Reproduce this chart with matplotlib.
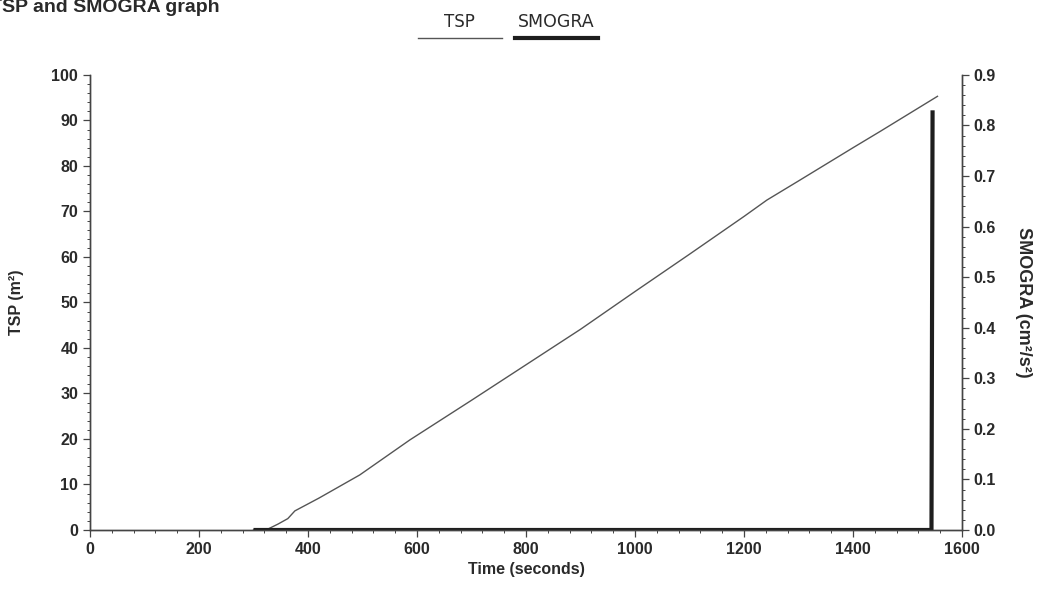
import matplotlib
matplotlib.use("Agg")
import matplotlib.pyplot as plt
from matplotlib.lines import Line2D
from matplotlib.ticker import MultipleLocator

# donnees
time_tsp = [300, 323, 345, 363, 376, 420, 495, 587, 700, 800, 900, 1000,
            1100, 1200, 1242, 1300, 1400, 1450, 1555]
tsp = [0, 0, 1.3, 2.5, 4.2, 7.0, 12.1, 19.8, 28.5, 36.3, 44.1, 52.4,
       60.6, 68.9, 72.5, 76.7, 84.0, 87.6, 95.3]

time_smogra = [300, 1544, 1546]
smogra = [0, 0, 0.83]

x_ticks = [0, 200, 400, 600, 800, 1000, 1200, 1400, 1600]
tsp_ticks = [0, 10, 20, 30, 40, 50, 60, 70, 80, 90, 100]
smogra_ticks = [0.0, 0.1, 0.2, 0.3, 0.4, 0.5, 0.6, 0.7, 0.8, 0.9]

plt.rcParams['font.family'] = ['Liberation Sans', 'DejaVu Sans']
spine_col = '#444444'
text_col = '#2a2a2a'

fig = plt.figure(figsize=(10.4, 5.9), dpi=100)
ax = fig.add_axes([0.0865, 0.1017, 0.8385, 0.7713])
ax2 = ax.twinx()

ax.plot(time_tsp, tsp, color='#555555', lw=1.0)
ax2.plot(time_smogra, smogra, color='#1e1e1e', lw=3.0, solid_capstyle='butt')

ax.set_xlim(0, 1600)
ax.set_ylim(0, 100)
ax2.set_ylim(0, 0.9)

ax.set_xticks(x_ticks)
ax.set_yticks(tsp_ticks)
ax2.set_yticks(smogra_ticks)
ax2.set_yticklabels([f"{v:.1f}" for v in smogra_ticks])
ax.xaxis.set_minor_locator(MultipleLocator(40))
ax.yaxis.set_minor_locator(MultipleLocator(2))
ax2.yaxis.set_minor_locator(MultipleLocator(0.02))

for a in (ax, ax2):
    a.spines['top'].set_visible(False)
    for s in ('left', 'right', 'bottom'):
        a.spines[s].set_color(spine_col)
        a.spines[s].set_linewidth(1.0)
    a.tick_params(which='major', length=5, width=0.9, color=spine_col,
                  labelsize=11.5, labelcolor=text_col)
    a.tick_params(which='minor', length=2.5, width=0.7, color=spine_col)
    for lab in a.get_xticklabels() + a.get_yticklabels():
        lab.set_fontweight('bold')

ax.set_xlabel('Time (seconds)', fontsize=11.5, fontweight='bold', color=text_col, labelpad=4)
ax.set_ylabel('TSP (m²)', fontsize=11.5, fontweight='bold', color=text_col, labelpad=20)
ax2.set_ylabel('SMOGRA (cm²/s²)', fontsize=13, fontweight='bold', color=text_col,
               rotation=270, labelpad=26)

# titre coupe en haut a gauche
fig.text(-0.010, 0.988, 'TSP and SMOGRA graph', fontsize=14, fontweight='bold',
         color=text_col, ha='left', va='center')

# legende au dessus du graphe
fig.text(0.442, 0.962, 'TSP', fontsize=12, color=text_col, ha='center', va='center',
         family=['DejaVu Sans'])
fig.text(0.535, 0.962, 'SMOGRA', fontsize=12.5, color=text_col, ha='center', va='center',
         family=['DejaVu Sans'])
fig.add_artist(Line2D([0.402, 0.483], [0.935, 0.935], color='#555555', lw=1.0,
                      transform=fig.transFigure))
fig.add_artist(Line2D([0.495, 0.575], [0.935, 0.935], color='#1e1e1e', lw=3.0,
                      transform=fig.transFigure))

fig.savefig('out.png', dpi=100, facecolor='white')
